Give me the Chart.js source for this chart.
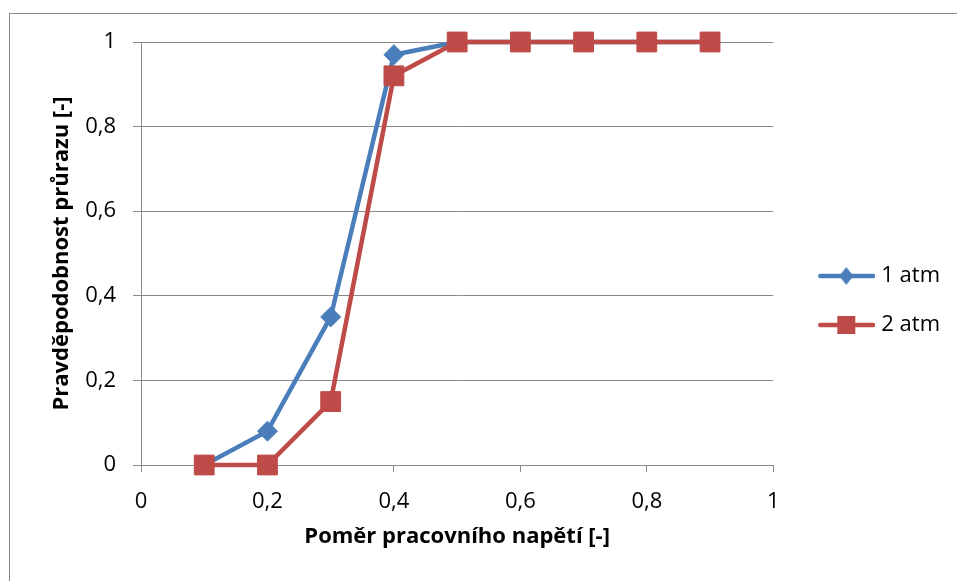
<!DOCTYPE html>
<html>
<head>
<meta charset="utf-8">
<script src="https://cdn.jsdelivr.net/npm/chart.js@4"></script>
<style>
  body { margin: 0; background: #fff; }
  canvas { display: block; }
</style>
</head>
<body>
<canvas id="myChart" width="957" height="581"></canvas>
<script>
// values
var xValues = [0.1, 0.2, 0.3, 0.4, 0.5, 0.6, 0.7, 0.8, 0.9];
var atm1 = [0, 0.08, 0.35, 0.97, 1, 1, 1, 1, 1];
var atm2 = [0, 0, 0.15, 0.92, 1, 1, 1, 1, 1];
var seriesNames = ['1 atm', '2 atm'];
var xTickLabels = ['0', '0,2', '0,4', '0,6', '0,8', '1'];
var yTickLabels = ['0', '0,2', '0,4', '0,6', '0,8', '1'];

var blue = '#4a7ebb';
var red = '#be4b48';
var gridGray = '#8a8a8a';
var fontName = '"Open Sans", Lato, sans-serif';

function toPoints(ys) {
  return xValues.map(function(x, i) { return {x: x, y: ys[i]}; });
}

// legend swatch: line with the marker in the middle (like excel)
function swatch(color, kind) {
  var c = document.createElement('canvas');
  c.width = 80; c.height = 30;
  var g = c.getContext('2d');
  g.strokeStyle = color;
  g.lineWidth = 4.5;
  g.lineCap = 'round';
  g.beginPath();
  g.moveTo(25, 15); g.lineTo(78, 15);
  g.stroke();
  g.fillStyle = color;
  g.beginPath();
  if (kind === 'diamond') {
    g.moveTo(51, 6); g.lineTo(58, 15); g.lineTo(51, 24); g.lineTo(44, 15);
  } else {
    g.rect(42, 6, 18, 18);
  }
  g.closePath();
  g.fill();
  return c;
}
var swatches = [swatch(blue, 'diamond'), swatch(red, 'square')];

var outerBorder = {
  id: 'outerBorder',
  beforeDraw: function(chart) {
    var ctx = chart.ctx;
    ctx.save();
    ctx.fillStyle = '#fff';
    ctx.fillRect(0, 0, chart.width, chart.height);
    ctx.strokeStyle = gridGray;
    ctx.lineWidth = 1;
    ctx.strokeRect(9.5, 13.5, chart.width, chart.height);
    ctx.restore();
  }
};

function noPad(scale) {
  scale.paddingLeft = 0; scale.paddingRight = 0;
  scale.paddingTop = 0; scale.paddingBottom = 0;
}

var ctx = document.getElementById('myChart');
var chart = new Chart(ctx, {
  type: 'line',
  data: {
    datasets: [{
      label: seriesNames[0],
      data: toPoints(atm1),
      borderColor: blue,
      backgroundColor: blue,
      borderWidth: 4.5,
      pointStyle: 'rectRot',
      pointRadius: 10,
      pointBorderWidth: 1,
      pointBackgroundColor: blue,
      pointBorderColor: blue,
      tension: 0,
      clip: false,
      order: 2
    }, {
      label: seriesNames[1],
      data: toPoints(atm2),
      borderColor: red,
      backgroundColor: red,
      borderWidth: 4.5,
      pointStyle: 'rect',
      pointRadius: 14,
      pointBorderWidth: 1,
      pointBackgroundColor: red,
      pointBorderColor: red,
      tension: 0,
      clip: false,
      order: 1
    }]
  },
  options: {
    responsive: false,
    animation: false,
    events: [],
    layout: { padding: { left: 0, top: 42, right: 7, bottom: 22 } },
    plugins: {
      tooltip: { enabled: false },
      legend: {
        position: 'right',
        labels: {
          usePointStyle: true,
          pointStyleWidth: 70,
          padding: 27,
          color: '#000',
          font: { family: fontName, size: 22 },
          generateLabels: function(chart) {
            return chart.data.datasets.map(function(ds, i) {
              return {
                text: ds.label,
                pointStyle: swatches[i],
                fillStyle: ds.borderColor,
                strokeStyle: ds.borderColor,
                lineWidth: 0,
                fontColor: '#000',
                hidden: false,
                datasetIndex: i
              };
            });
          }
        }
      }
    },
    scales: {
      x: {
        type: 'linear',
        min: 0,
        max: 1,
        afterFit: function(scale) { scale.height = 94; noPad(scale); },
        ticks: {
          stepSize: 0.2,
          padding: 17,
          color: '#000',
          font: { family: fontName, size: 22 },
          maxRotation: 0,
          callback: function(v, i) { return xTickLabels[i]; }
        },
        grid: { drawOnChartArea: false, drawTicks: true, tickLength: 7, color: gridGray },
        border: { color: gridGray, width: 1 },
        title: {
          display: true,
          text: 'Poměr pracovního napětí [-]',
          color: '#000',
          font: { family: fontName, size: 22, weight: 'bold' },
          padding: { top: 0, bottom: 9 }
        }
      },
      y: {
        min: 0,
        max: 1,
        afterFit: function(scale) { scale.width = 141; noPad(scale); },
        ticks: {
          stepSize: 0.2,
          padding: 17,
          color: '#000',
          font: { family: fontName, size: 22 },
          callback: function(v, i) { return yTickLabels[i]; }
        },
        grid: { drawTicks: true, tickLength: 8, color: gridGray },
        border: { color: gridGray, width: 1 },
        title: {
          display: true,
          text: 'Pravděpodobnost průrazu [-]',
          color: '#000',
          font: { family: fontName, size: 22, weight: 'bold' },
          padding: { top: 49, bottom: 0 }
        }
      }
    }
  },
  plugins: [outerBorder]
});
</script>
</body>
</html>
